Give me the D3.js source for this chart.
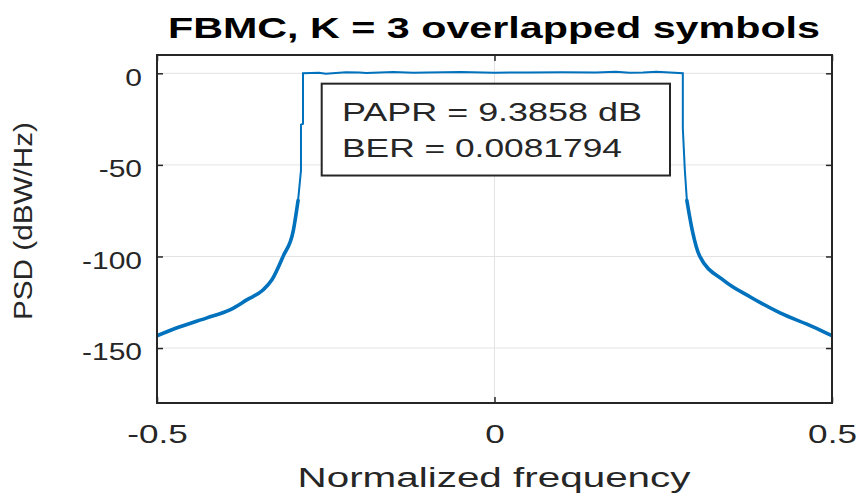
<!DOCTYPE html>
<html><head><meta charset="utf-8">
<script src="https://cdn.jsdelivr.net/npm/d3@7"></script>
<style>body{margin:0;background:#fff}svg{display:block}text{font-family:"Liberation Sans",Arial,Helvetica,sans-serif}</style>
</head><body>
<svg id="c" width="857" height="496"></svg>
<script>
const titleText = "FBMC, K = 3 overlapped symbols";
const xLabel = "Normalized frequency";
const yLabel = "PSD (dBW/Hz)";
const annotLines = ["PAPR = 9.3858 dB", "BER = 0.0081794"];
const xTicks = [-0.5, 0, 0.5];
const yTicks = [-150, -100, -50, 0];
const xDomain = [-0.5, 0.5];
const yDomain = [-180, 10];

const leftFreq = [-0.5, -0.466, -0.426, -0.392, -0.367, -0.343, -0.33, -0.313, -0.298, -0.291, -0.2867, -0.2867, -0.2837, -0.2837];
const leftPsd  = [-143.3, -138.4, -133.5, -129.2, -123.7, -118.3, -112.9, -99.8, -85.7, -69.4, -53, -28, -27.6, 0];
const passFreq = [-0.26, -0.25, -0.22, -0.2, -0.19, -0.15, -0.12, -0.1, -0.05, 0, 0.05, 0.1, 0.15, 0.18, 0.2, 0.22, 0.24, 0.26];
const passPsd  = [0.3, -0.2, 0.6, 0.5, 0.2, 0.7, 0.3, 0.4, 0.7, 0.3, 0.5, 0.6, 0.4, 0.8, 0.3, 0.5, 0.9, 0.4];
const rightFreq = [0.279, 0.279, 0.282, 0.285, 0.293, 0.304, 0.339, 0.379, 0.423, 0.472, 0.5];
const rightPsd  = [0, -30, -53, -69.4, -85.7, -99.8, -112.9, -122.1, -130.8, -138.4, -143.3];

const W = 857, H = 496;
const m = {left: 157, right: 857 - 832, top: 55, bottom: 496 - 403};
const pw = W - m.left - m.right, ph = H - m.top - m.bottom;
const svg = d3.select("#c");
const g = svg.append("g").attr("transform", `translate(${m.left},${m.top})`);
const x = d3.scaleLinear().domain(xDomain).range([0, pw]);
const y = d3.scaleLinear().domain(yDomain).range([ph, 0]);
const ink = "#262626";
const blue = "#0072BD";

// grid
g.append("g").selectAll("line").data(xTicks).join("line")
  .attr("x1", d => x(d)).attr("x2", d => x(d)).attr("y1", 0).attr("y2", ph)
  .attr("stroke", "#e3e3e3").attr("stroke-width", 1);
g.append("g").selectAll("line").data(yTicks).join("line")
  .attr("y1", d => y(d)).attr("y2", d => y(d)).attr("x1", 0).attr("x2", pw)
  .attr("stroke", "#e3e3e3").attr("stroke-width", 1);

// data
const L = leftFreq.map((f, i) => [f, leftPsd[i]]);
const P = passFreq.map((f, i) => [f, passPsd[i]]);
const R = rightFreq.map((f, i) => [f, rightPsd[i]]);
const leftSkirt = L.filter(d => d[1] <= -69.4);
const rightSkirt = R.filter(d => d[1] <= -69.4);
const core = L.filter(d => d[1] >= -69.4).concat(P, R.filter(d => d[1] >= -69.4));

const lineLin = d3.line().x(d => x(d[0])).y(d => y(d[1]));
const lineSmooth = d3.line().x(d => x(d[0])).y(d => y(d[1])).curve(d3.curveMonotoneX);
svg.append("defs").append("clipPath").attr("id", "clp").append("rect").attr("width", pw).attr("height", ph);
const lg = g.append("g").attr("clip-path", "url(#clp)");
lg.append("path").datum(core).attr("d", lineLin).attr("fill", "none")
  .attr("stroke", blue).attr("stroke-width", 2);
[leftSkirt, rightSkirt].forEach(s => lg.append("path").datum(s).attr("d", lineSmooth)
  .attr("fill", "none").attr("stroke", blue).attr("stroke-width", 3.6)
  .attr("stroke-linejoin", "round").attr("stroke-linecap", "round"));

// axes
const fmt = d => String(d);
const xa = g.append("g").attr("transform", `translate(0,${ph})`)
  .call(d3.axisBottom(x).tickValues(xTicks).tickSize(-6).tickPadding(22).tickFormat(fmt));
xa.selectAll("text").attr("font-size", 26).attr("fill", ink).attr("transform", "scale(1.35,1)");
const ya = g.append("g")
  .call(d3.axisLeft(y).tickValues(yTicks).tickSize(-6).tickPadding(15).tickFormat(fmt));
ya.selectAll("text").attr("font-size", 24).attr("fill", ink).attr("x", -15 / 1.25).attr("y", 4)
  .attr("transform", "scale(1.25,1)");
g.append("g").attr("transform", `translate(${pw},0)`)
  .call(d3.axisRight(y).tickValues(yTicks).tickSize(-6).tickFormat(""));
g.append("g").call(d3.axisTop(x).tickValues(xTicks).tickSize(-6).tickFormat(""));
g.selectAll(".domain").remove();
g.selectAll(".tick line").attr("stroke", ink).attr("stroke-width", 1.5);
g.append("rect").attr("width", pw).attr("height", ph).attr("fill", "none")
  .attr("stroke", ink).attr("stroke-width", 2);

// annotation box
const bx = x(-0.256), by = y(-5.65);
const bw = x(0.26) - bx, bh = y(-55.8) - by;
g.append("rect").attr("x", bx).attr("y", by).attr("width", bw).attr("height", bh)
  .attr("fill", "#fff").attr("stroke", ink).attr("stroke-width", 2);
const aLens = [300, 280];
annotLines.forEach((t, i) => {
  svg.append("text").attr("x", 342).attr("y", 121 + i * 36).attr("font-size", 25)
    .attr("fill", ink).attr("textLength", aLens[i]).attr("lengthAdjust", "spacingAndGlyphs").text(t);
});

// title and labels
svg.append("text").attr("x", 494).attr("y", 38).attr("text-anchor", "middle")
  .attr("font-size", 30).attr("font-weight", "bold").attr("fill", "#000")
  .attr("textLength", 652).attr("lengthAdjust", "spacingAndGlyphs").text(titleText);
svg.append("text").attr("x", 494).attr("y", 487).attr("text-anchor", "middle")
  .attr("font-size", 27).attr("fill", ink)
  .attr("textLength", 393).attr("lengthAdjust", "spacingAndGlyphs").text(xLabel);
svg.append("text").attr("transform", "translate(32,221) rotate(-90)").attr("text-anchor", "middle")
  .attr("font-size", 26).attr("fill", ink)
  .attr("textLength", 198).attr("lengthAdjust", "spacingAndGlyphs").text(yLabel);
</script>
</body></html>
